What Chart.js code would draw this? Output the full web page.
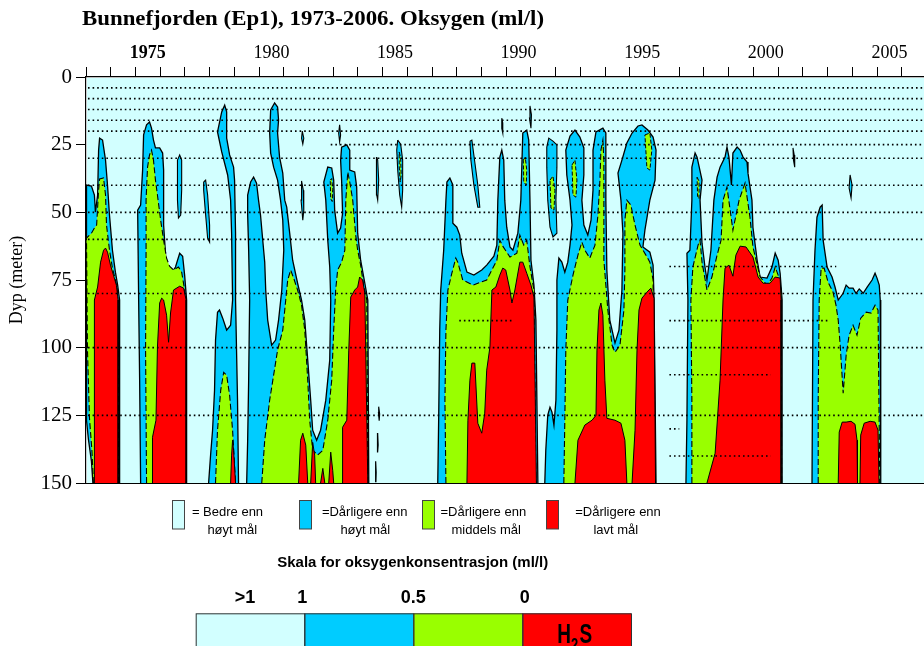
<!DOCTYPE html>
<html>
<head>
<meta charset="utf-8">
<script src="https://cdn.jsdelivr.net/npm/chart.js@4.4.1/dist/chart.umd.min.js"></script>
<style>
  html, body { margin: 0; padding: 0; background: #fff; }
  #wrap { position: relative; width: 924px; height: 646px; overflow: hidden; }
  canvas { position: absolute; left: 0; top: 0; }
</style>
</head>
<body>
<div id="wrap"><canvas id="chart" width="924" height="646"></canvas></div>
<script>
// Axis tick values
const yearTicks = [1973,1974,1975,1976,1977,1978,1979,1980,1981,1982,1983,1984,1985,1986,1987,1988,1989,1990,
                   1991,1992,1993,1994,1995,1996,1997,1998,1999,2000,2001,2002,2003,2004,2005,2006];
const yearLabels = [1975, 1980, 1985, 1990, 1995, 2000, 2005];
const depthTicks = [0, 25, 50, 75, 100, 125, 150];

// Sampling depths (m) measured over the whole period
const sampleDepths = [4, 8, 12, 16, 20, 30, 40, 50, 60, 80, 100, 125];
// Sampling depths only measured in some periods: [depth, from, to]
const sampleRowsPartial = [[25, 1982.9, 2006.9], [70, 1996.6, 2003.35], [90, 1996.6, 2003.1], [90, 1988.1, 1990.3],
                           [110, 1996.6, 2000.7], [140, 1996.6, 2000.7], [130, 1996.6, 1997.0]];

// Oxygen below 1 ml/l (outline of each stagnation period) as [year, depth]
const blueZones = [
  [[1973.28,150],[1973.22,142.0],[1973.10,134.0],[1973.02,126.8],[1973.02,39.9],[1973.22,40.3],[1973.34,43.6],[1973.38,49.9],[1973.47,43.6],[1973.51,27.0],[1973.55,22.6],[1973.67,23.3],[1973.79,30.7],[1973.87,39.9],[1973.95,51.0],[1974.07,64.0],[1974.19,72.1],[1974.28,76.9],[1974.36,82.4],[1974.36,150]],
  [[1975.21,150],[1975.17,112.0],[1975.13,82.4],[1975.09,49.2],[1975.21,47.3],[1975.29,34.4],[1975.33,21.4],[1975.45,17.7],[1975.57,16.6],[1975.65,18.9],[1975.73,23.3],[1975.81,26.2],[1975.98,26.2],[1976.10,28.1],[1976.14,34.4],[1976.14,54.7],[1976.22,65.8],[1976.30,70.6],[1976.46,72.5],[1976.62,70.2],[1976.79,65.1],[1976.91,66.2],[1976.99,73.2],[1977.07,82.4],[1977.07,150]],
  [[1977.96,150],[1978.04,139.7],[1978.12,130.5],[1978.20,115.7],[1978.24,97.2],[1978.32,86.9],[1978.40,86.1],[1978.53,89.1],[1978.69,93.5],[1978.85,91.7],[1978.93,82.4],[1978.89,57.7],[1978.85,45.5],[1978.73,36.2],[1978.49,27.7],[1978.32,20.3],[1978.49,12.9],[1978.61,10.4],[1978.69,12.9],[1978.69,22.6],[1978.81,28.8],[1978.97,33.3],[1979.01,38.1],[1979.05,57.7],[1979.05,82.4],[1979.13,119.4],[1979.17,150]],
  [[1979.50,150],[1979.54,134.2],[1979.58,112.0],[1979.62,82.4],[1979.58,64.0],[1979.54,51.0],[1979.54,43.6],[1979.66,38.8],[1979.78,37.0],[1979.90,39.2],[1979.98,45.5],[1980.06,51.0],[1980.15,60.3],[1980.23,68.4],[1980.27,78.7],[1980.35,89.8],[1980.51,99.1],[1980.67,97.2],[1980.79,89.8],[1980.92,78.7],[1981.00,64.0],[1980.96,52.9],[1980.87,45.5],[1980.75,38.1],[1980.59,33.3],[1980.47,28.1],[1980.43,20.7],[1980.47,12.2],[1980.63,9.6],[1980.75,11.1],[1980.79,15.9],[1980.75,20.7],[1980.83,29.6],[1980.96,35.5],[1981.04,45.5],[1981.12,48.1],[1981.24,57.7],[1981.36,67.7],[1981.56,76.2],[1981.72,82.4],[1981.85,89.8],[1981.97,104.6],[1982.09,119.4],[1982.17,130.5],[1982.33,134.2],[1982.49,130.5],[1982.70,119.4],[1982.86,104.6],[1982.90,82.4],[1982.86,70.2],[1982.78,60.3],[1982.70,45.5],[1982.62,38.8],[1982.78,33.3],[1982.94,33.6],[1983.02,38.1],[1983.06,49.2],[1983.18,57.7],[1983.30,55.8],[1983.38,50.3],[1983.34,38.1],[1983.30,30.7],[1983.34,25.9],[1983.55,25.1],[1983.67,27.0],[1983.67,34.4],[1983.87,35.1],[1983.95,40.7],[1983.99,57.7],[1984.11,67.7],[1984.28,76.2],[1984.40,82.4],[1984.44,150]],
  [[1987.23,150],[1987.27,124.2],[1987.31,93.5],[1987.35,78.7],[1987.47,64.0],[1987.56,45.5],[1987.60,38.8],[1987.72,37.3],[1987.84,39.9],[1987.84,54.0],[1988.00,55.5],[1988.12,58.4],[1988.20,65.1],[1988.41,72.1],[1988.69,73.2],[1989.01,71.3],[1989.21,69.5],[1989.50,66.2],[1989.62,62.1],[1989.66,45.5],[1989.74,29.6],[1989.82,27.0],[1989.90,30.7],[1989.94,45.5],[1990.02,55.5],[1990.15,62.8],[1990.27,64.0],[1990.47,57.7],[1990.59,45.5],[1990.67,20.7],[1990.83,19.6],[1990.91,23.3],[1990.96,45.5],[1991.00,67.7],[1991.12,76.9],[1991.20,89.8],[1991.24,119.4],[1991.28,150]],
  [[1991.56,150],[1991.60,137.9],[1991.68,124.9],[1991.77,122.0],[1991.85,123.8],[1991.93,128.6],[1992.01,119.4],[1992.05,93.5],[1992.05,75.0],[1992.13,66.9],[1992.25,68.4],[1992.37,72.1],[1992.49,68.4],[1992.58,62.1],[1992.66,54.7],[1992.58,45.5],[1992.45,36.2],[1992.41,27.0],[1992.58,21.8],[1992.78,19.6],[1992.98,22.2],[1993.14,26.2],[1993.14,36.2],[1993.06,45.5],[1993.14,54.7],[1993.30,58.4],[1993.43,52.9],[1993.51,41.8],[1993.51,27.0],[1993.63,20.3],[1993.91,18.9],[1994.03,20.7],[1994.03,45.5],[1994.07,71.3],[1994.19,89.8],[1994.40,98.3],[1994.56,93.5],[1994.68,78.7],[1994.72,57.7],[1994.64,45.5],[1994.52,35.5],[1994.68,30.7],[1994.88,24.4],[1995.09,20.7],[1995.33,18.1],[1995.49,17.7],[1995.73,19.6],[1995.94,22.2],[1996.06,27.0],[1996.02,38.1],[1995.81,45.5],[1995.61,56.6],[1995.53,62.8],[1995.81,64.7],[1995.94,69.5],[1995.98,82.4],[1996.06,150]],
  [[1997.27,150],[1997.31,126.8],[1997.35,82.4],[1997.31,65.1],[1997.43,64.0],[1997.51,45.5],[1997.51,33.3],[1997.64,28.1],[1997.72,29.6],[1997.92,38.1],[1997.84,45.5],[1997.92,61.4],[1998.04,70.2],[1998.12,75.0],[1998.28,64.0],[1998.40,45.5],[1998.53,37.0],[1998.65,33.3],[1998.85,29.6],[1998.93,25.9],[1999.01,29.6],[1999.11,39.9],[1999.17,28.1],[1999.34,25.9],[1999.46,27.0],[1999.58,29.6],[1999.74,31.4],[1999.78,35.5],[1999.94,45.5],[1999.98,55.5],[2000.15,67.7],[2000.27,73.9],[2000.55,74.3],[2000.75,70.2],[2000.88,65.1],[2001.00,67.7],[2001.08,72.5],[2001.16,82.4],[2001.16,150]],
  [[2002.37,150],[2002.41,82.4],[2002.49,64.0],[2002.57,51.8],[2002.70,48.1],[2002.78,47.3],[2002.82,60.3],[2002.98,70.2],[2003.18,73.9],[2003.30,77.6],[2003.43,82.4],[2003.63,79.9],[2003.75,76.9],[2003.87,78.0],[2004.03,78.0],[2004.15,79.9],[2004.28,78.3],[2004.44,79.9],[2004.60,77.6],[2004.80,75.0],[2004.92,72.5],[2005.00,74.3],[2005.09,76.9],[2005.13,82.4],[2005.15,150]]
];

// Small isolated patches below 1 ml/l (closed outlines)
const blueIslands = [
  [[1976.70,30.7],[1976.79,28.8],[1976.87,30.7],[1976.87,41.8],[1976.83,51.0],[1976.74,52.1],[1976.70,45.5],[1976.70,30.7]],
  [[1977.76,38.8],[1977.84,38.1],[1977.92,43.6],[1978.00,54.7],[1978.00,61.0],[1977.92,59.5],[1977.84,51.0],[1977.76,41.8],[1977.76,38.8]],
  [[1981.72,38.4],[1981.79,41.8],[1981.81,49.2],[1981.77,52.9],[1981.70,45.5],[1981.72,38.4]],
  [[1981.75,20.0],[1981.81,22.6],[1981.77,24.8],[1981.72,22.6],[1981.75,20.0]],
  [[1983.26,17.7],[1983.30,21.4],[1983.26,24.0],[1983.22,20.7],[1983.26,17.7]],
  [[1984.76,29.6],[1984.80,30.7],[1984.84,38.1],[1984.80,45.5],[1984.76,43.6],[1984.74,34.4],[1984.76,29.6]],
  [[1984.84,121.8],[1984.88,124.5],[1984.86,127.0],[1984.83,124.0],[1984.84,121.8]],
  [[1984.80,131.5],[1984.82,136.0],[1984.80,138.5],[1984.78,135.0],[1984.80,131.5]],
  [[1984.72,142.0],[1984.74,146.0],[1984.73,149.5],[1984.71,146.5],[1984.72,142.0]],
  [[1985.61,23.3],[1985.73,24.8],[1985.81,30.7],[1985.81,41.8],[1985.77,48.1],[1985.69,43.6],[1985.61,34.4],[1985.57,27.0],[1985.61,23.3]],
  [[1988.53,23.7],[1988.61,23.3],[1988.69,28.8],[1988.85,39.9],[1988.93,48.1],[1988.85,48.1],[1988.69,39.9],[1988.57,30.7],[1988.53,23.7]],
  [[1989.82,15.2],[1989.86,17.0],[1989.86,20.7],[1989.82,19.0],[1989.82,15.2]],
  [[1990.96,10.7],[1991.02,14.0],[1991.00,18.9],[1990.94,15.2],[1990.96,10.7]],
  [[1991.64,25.9],[1991.72,22.6],[1991.89,23.7],[1992.05,25.1],[1992.05,33.3],[1992.01,45.5],[1992.05,57.7],[1991.89,59.1],[1991.77,55.5],[1991.68,45.5],[1991.64,33.3],[1991.64,25.9]],
  [[2001.60,26.2],[2001.65,28.8],[2001.67,33.3],[2001.62,30.7],[2001.60,26.2]],
  [[2003.91,36.2],[2003.99,39.9],[2003.95,44.7],[2003.87,41.0],[2003.91,36.2]]
];

// Oxygen below 0.5 ml/l
const greenZones = [
  [[1973.30,150],[1973.24,138.0],[1973.14,126.0],[1973.06,100.9],[1973.02,59.5],[1973.22,57.7],[1973.34,55.8],[1973.43,54.7],[1973.51,41.8],[1973.55,37.7],[1973.71,37.3],[1973.79,43.6],[1973.83,54.7],[1973.95,64.0],[1974.07,70.6],[1974.19,75.0],[1974.28,79.5],[1974.32,150]],
  [[1975.45,150],[1975.41,100.9],[1975.43,64.0],[1975.43,45.5],[1975.49,33.3],[1975.57,28.8],[1975.65,27.0],[1975.73,30.7],[1975.81,38.1],[1975.89,43.6],[1976.02,52.9],[1976.14,60.3],[1976.26,66.9],[1976.38,69.9],[1976.54,71.3],[1976.74,70.2],[1976.87,72.1],[1976.99,78.7],[1977.05,150]],
  [[1978.24,150],[1978.32,130.5],[1978.45,115.7],[1978.57,109.1],[1978.69,110.2],[1978.81,117.6],[1978.93,130.5],[1979.05,150]],
  [[1980.11,150],[1980.23,134.2],[1980.43,119.4],[1980.75,100.9],[1980.96,93.5],[1981.08,82.4],[1981.16,75.0],[1981.28,71.3],[1981.40,74.3],[1981.56,78.7],[1981.72,84.3],[1981.85,93.5],[1981.97,112.0],[1982.05,126.8],[1982.17,137.9],[1982.37,139.7],[1982.58,137.9],[1982.78,126.8],[1982.94,112.0],[1983.02,93.5],[1983.10,78.7],[1983.18,71.3],[1983.34,68.4],[1983.47,64.0],[1983.51,45.5],[1983.59,35.1],[1983.67,38.8],[1983.79,45.5],[1983.91,58.4],[1983.99,64.0],[1984.11,69.5],[1984.23,76.9],[1984.36,82.4],[1984.40,150]],
  [[1987.56,150],[1987.52,119.4],[1987.56,93.5],[1987.64,78.7],[1987.80,72.5],[1987.96,66.9],[1988.04,68.4],[1988.24,75.0],[1988.65,76.9],[1989.21,75.0],[1989.62,67.7],[1989.74,60.3],[1989.86,62.5],[1990.15,66.5],[1990.43,65.1],[1990.55,58.4],[1990.71,62.1],[1990.83,60.3],[1990.96,70.2],[1991.12,78.7],[1991.20,150]],
  [[1992.33,150],[1992.37,126.8],[1992.41,100.9],[1992.49,82.4],[1992.70,73.2],[1992.90,65.8],[1993.06,61.0],[1993.18,64.0],[1993.38,66.9],[1993.59,62.1],[1993.71,51.0],[1993.79,38.1],[1993.83,27.0],[1993.91,23.3],[1993.95,30.7],[1993.95,67.7],[1994.03,76.9],[1994.11,86.1],[1994.28,99.1],[1994.40,101.7],[1994.60,99.1],[1994.76,86.1],[1994.80,71.3],[1994.80,52.9],[1994.88,45.5],[1995.04,47.3],[1995.21,54.7],[1995.41,62.1],[1995.65,65.8],[1995.81,68.4],[1995.94,75.0],[1996.02,150]],
  [[1997.51,150],[1997.51,119.4],[1997.47,82.4],[1997.55,70.2],[1997.76,62.1],[1997.84,60.3],[1997.92,68.4],[1998.12,78.7],[1998.32,73.9],[1998.53,65.8],[1998.69,60.3],[1998.77,45.5],[1998.93,40.7],[1999.17,56.6],[1999.42,45.5],[1999.66,39.2],[1999.86,51.8],[1999.98,62.8],[2000.27,73.9],[2000.55,76.9],[2000.75,74.3],[2000.88,70.2],[2001.00,73.2],[2001.12,78.7],[2001.14,150]],
  [[2002.62,150],[2002.62,119.4],[2002.66,82.4],[2002.74,70.6],[2002.86,70.6],[2003.02,75.8],[2003.22,79.5],[2003.34,84.3],[2003.43,89.8],[2003.51,99.1],[2003.63,116.8],[2003.75,102.8],[2003.87,95.4],[2004.03,91.7],[2004.19,95.4],[2004.34,89.1],[2004.56,86.9],[2004.76,87.2],[2004.92,84.3],[2005.04,86.1],[2005.11,150]]
];

const greenIslands = [
  [[1982.88,38.1],[1982.94,37.5],[1982.98,41.5],[1982.96,46.0],[1982.90,45.0],[1982.88,38.1]],
  [[1985.67,27.7],[1985.73,29.9],[1985.75,36.2],[1985.71,38.8],[1985.67,32.9],[1985.67,27.7]],
  [[1990.69,30.7],[1990.77,29.6],[1990.83,34.4],[1990.81,39.9],[1990.71,38.8],[1990.69,30.7]],
  [[1991.77,38.1],[1991.89,36.6],[1991.97,41.8],[1991.93,49.2],[1991.81,48.4],[1991.77,38.1]],
  [[1992.66,32.5],[1992.78,30.7],[1992.86,38.1],[1992.82,44.4],[1992.70,43.6],[1992.66,32.5]],
  [[1995.61,21.4],[1995.81,20.7],[1995.89,27.0],[1995.81,34.4],[1995.69,33.6],[1995.61,21.4]],
  [[1997.72,37.0],[1997.80,38.5],[1997.80,45.0],[1997.74,44.0],[1997.72,37.0]]
];

// Hydrogen sulphide (H2S)
const redZones = [
  [[1973.34,150],[1973.34,82.4],[1973.47,77.6],[1973.59,68.4],[1973.71,64.0],[1973.79,63.2],[1973.87,64.7],[1973.99,69.5],[1974.11,73.2],[1974.23,76.9],[1974.30,82.4],[1974.30,150]],
  [[1975.67,150],[1975.69,133.1],[1975.83,126.8],[1975.89,99.8],[1975.98,83.5],[1976.06,81.7],[1976.14,82.4],[1976.26,88.0],[1976.34,98.0],[1976.42,87.2],[1976.54,78.7],[1976.79,77.3],[1976.95,78.0],[1977.05,82.4],[1977.05,150]],
  [[1978.85,150],[1978.89,139.7],[1978.93,134.2],[1978.97,137.9],[1979.05,150]],
  [[1981.60,150],[1981.68,134.2],[1981.77,131.6],[1981.89,136.0],[1981.97,150]],
  [[1982.09,150],[1982.17,135.0],[1982.25,139.7],[1982.29,150]],
  [[1982.49,150],[1982.58,144.6],[1982.66,150]],
  [[1982.82,150],[1982.90,138.6],[1982.98,145.3],[1983.02,150]],
  [[1983.36,150],[1983.38,129.4],[1983.55,126.8],[1983.63,100.9],[1983.71,81.3],[1983.87,78.7],[1983.99,77.6],[1984.07,73.9],[1984.19,75.0],[1984.28,79.9],[1984.40,150]],
  [[1988.41,150],[1988.45,126.8],[1988.53,112.0],[1988.61,105.7],[1988.73,105.7],[1988.85,127.9],[1989.01,131.6],[1989.13,124.2],[1989.21,108.3],[1989.34,99.8],[1989.42,78.7],[1989.58,77.6],[1989.74,73.2],[1989.86,70.6],[1989.98,71.3],[1990.15,78.7],[1990.23,83.5],[1990.35,78.7],[1990.55,68.4],[1990.67,68.4],[1990.83,72.5],[1991.00,76.9],[1991.12,81.3],[1991.22,150]],
  [[1992.78,150],[1992.90,134.2],[1993.18,128.6],[1993.47,126.8],[1993.63,125.0],[1993.67,100.9],[1993.75,86.1],[1993.83,83.5],[1993.91,88.0],[1993.99,112.0],[1994.07,126.1],[1994.40,126.8],[1994.64,127.9],[1994.80,134.2],[1994.88,150]],
  [[1995.09,150],[1995.21,130.5],[1995.29,100.9],[1995.37,86.1],[1995.49,81.7],[1995.69,79.5],[1995.85,78.0],[1995.98,81.7],[1996.04,150]],
  [[1998.12,150],[1998.45,139.0],[1998.65,112.0],[1998.77,82.4],[1998.85,70.6],[1999.01,69.5],[1999.17,73.6],[1999.29,65.8],[1999.46,62.5],[1999.70,62.8],[1999.98,66.5],[2000.19,73.9],[2000.39,76.2],[2000.67,76.2],[2000.88,73.9],[2001.08,74.3],[2001.12,82.4],[2001.12,150]],
  [[2003.43,150],[2003.47,131.2],[2003.59,127.5],[2003.75,127.5],[2003.95,127.2],[2004.11,128.3],[2004.19,134.2],[2004.21,150]],
  [[2004.31,150],[2004.34,132.3],[2004.48,127.9],[2004.72,127.2],[2004.92,127.5],[2005.04,130.5],[2005.08,150]]
];

// Colour classes
const COL_GOOD = '#d2ffff';   // > 1 ml/l
const COL_LOW  = '#00ccff';   // 0.5 - 1 ml/l
const COL_VLOW = '#99ff00';   // 0 - 0.5 ml/l
const COL_H2S  = '#ff0000';   // H2S

const X_MIN = 1973, X_MAX = 2006.9;

function zone(points, color, dash, width, order) {
  return {
    data: points.map(([x, y]) => ({x, y})),
    backgroundColor: color,
    borderColor: '#000',
    borderWidth: width,
    borderDash: dash,
    fill: 'shape',
    pointRadius: 0,
    pointHoverRadius: 0,
    tension: 0,
    order
  };
}

function sampleRow(depth, from, to) {
  return {
    data: [{x: from, y: depth}, {x: to, y: depth}],
    borderColor: '#000',
    borderWidth: 1.6,
    borderDash: [1.6, 3],
    fill: false,
    pointRadius: 0,
    pointHoverRadius: 0,
    order: 1
  };
}

const datasets = [];
blueZones.forEach(p => datasets.push(zone(p, COL_LOW, [], 1.3, 50)));
blueIslands.forEach(p => datasets.push(zone(p, COL_LOW, [], 1.1, 45)));
greenZones.forEach(p => datasets.push(zone(p, COL_VLOW, [6, 3], 1.1, 40)));
greenIslands.forEach(p => datasets.push(zone(p, COL_VLOW, [4, 2], 1, 35)));
redZones.forEach(p => datasets.push(zone(p, COL_H2S, [], 1, 30)));
sampleDepths.forEach(d => datasets.push(sampleRow(d, 1973.08, X_MAX)));
sampleRowsPartial.forEach(([d, a, b]) => datasets.push(sampleRow(d, a, b)));

// Plot background, frame, title, legend and colour scale
const decorations = {
  id: 'decorations',
  beforeDraw(chart) {
    const {ctx, chartArea: a} = chart;
    ctx.save();
    ctx.fillStyle = COL_GOOD;
    ctx.fillRect(a.left + 1, a.top + 1, a.right - a.left, a.bottom - a.top - 1);
    ctx.restore();
  },
  afterDraw(chart) {
    const {ctx, chartArea: a} = chart;
    ctx.save();
    // bottom frame line
    ctx.strokeStyle = '#000';
    ctx.lineWidth = 1.2;
    ctx.beginPath();
    ctx.moveTo(a.left, a.bottom + 0.5);
    ctx.lineTo(a.right, a.bottom + 0.5);
    ctx.stroke();

    // title
    const title = 'Bunnefjorden (Ep1), 1973-2006. Oksygen (ml/l)';
    ctx.fillStyle = '#000';
    ctx.font = 'bold 20px "Liberation Serif"';
    ctx.textAlign = 'left';
    ctx.textBaseline = 'alphabetic';
    const w = ctx.measureText(title).width;
    ctx.save();
    ctx.translate(82, 24.5);
    ctx.scale(462 / w, 1);
    ctx.fillText(title, 0, 0);
    ctx.restore();

    // legend
    const items = [
      {x: 172, color: COL_GOOD, l1: '= Bedre enn', c1: 227.5, l2: 'høyt mål', c2: 232.3},
      {x: 299, color: COL_LOW,  l1: '=Dårligere enn', c1: 364.7, l2: 'høyt mål', c2: 365.3},
      {x: 422, color: COL_VLOW, l1: '=Dårligere enn', c1: 483.3, l2: 'middels mål', c2: 486.2},
      {x: 546, color: COL_H2S,  l1: '=Dårligere enn', c1: 618.0, l2: 'lavt mål', c2: 615.8}
    ];
    ctx.font = '13px "Liberation Sans"';
    ctx.textAlign = 'center';
    items.forEach(it => {
      ctx.fillStyle = it.color;
      ctx.fillRect(it.x, 500, 12.5, 29);
      ctx.strokeStyle = '#444';
      ctx.lineWidth = 1;
      ctx.strokeRect(it.x + 0.5, 500.5, 12, 28.5);
      ctx.fillStyle = '#000';
      ctx.fillText(it.l1, it.c1, 516);
      ctx.fillText(it.l2, it.c2, 533.5);
    });

    // colour scale
    ctx.font = 'bold 15px "Liberation Sans"';
    ctx.fillText('Skala for oksygenkonsentrasjon (ml/l)', 412.7, 567);
    ctx.font = 'bold 18px "Liberation Sans"';
    [['>1', 245], ['1', 302.3], ['0.5', 413.3], ['0', 524.7]].forEach(([t, x]) => ctx.fillText(t, x, 602.7));
    const edges = [195.7, 304.3, 413.3, 522.3, 631];
    const cols = [COL_GOOD, COL_LOW, COL_VLOW, COL_H2S];
    cols.forEach((c, i) => {
      ctx.fillStyle = c;
      ctx.fillRect(edges[i], 613.3, edges[i + 1] - edges[i], 40);
    });
    ctx.strokeStyle = '#333';
    ctx.lineWidth = 1;
    for (let i = 0; i < 4; i++) {
      ctx.strokeRect(edges[i] + 0.5, 613.8, edges[i + 1] - edges[i], 40);
    }
    // H2S label
    ctx.fillStyle = '#000';
    ctx.textAlign = 'left';
    ctx.save();
    ctx.translate(0, 643.3);
    ctx.scale(1, 1.45);
    ctx.font = 'bold 19px "Liberation Sans"';
    ctx.fillText('H', 557.3, 0);
    ctx.font = 'bold 13px "Liberation Sans"';
    ctx.fillText('2', 571, 5);
    ctx.font = 'bold 19px "Liberation Sans"';
    ctx.fillText('S', 579.5, 0);
    ctx.restore();
    ctx.restore();
  }
};

new Chart(document.getElementById('chart'), {
  type: 'line',
  data: { datasets },
  options: {
    responsive: false,
    animation: false,
    events: [],
    devicePixelRatio: 1,
    layout: { padding: { left: 0, right: 0, top: 0, bottom: 163 } },
    plugins: { legend: { display: false }, tooltip: { enabled: false }, title: { display: false } },
    scales: {
      x: {
        type: 'linear',
        position: 'top',
        min: X_MIN,
        max: X_MAX,
        z: 1,
        afterBuildTicks: s => { s.ticks = yearTicks.map(v => ({value: v})); },
        afterFit: s => { s.height = 77; },
        ticks: {
          autoSkip: false,
          maxRotation: 0,
          padding: 3,
          labelOffset: 12.35,
          color: '#000',
          font: c => ({family: 'Liberation Serif', size: 18,
                       weight: (c.tick && c.tick.value === 1975) ? 'bold' : 'normal'}),
          callback: v => yearLabels.includes(v) ? String(v) : ''
        },
        grid: { drawOnChartArea: false, drawTicks: true, tickLength: 10, color: '#000', lineWidth: 1 },
        border: { display: true, color: '#000', width: 1.2 }
      },
      y: {
        type: 'linear',
        reverse: true,
        min: 0,
        max: 150,
        z: 1,
        afterBuildTicks: s => { s.ticks = depthTicks.map(v => ({value: v})); },
        afterFit: s => { s.width = 86; },
        ticks: { color: '#000', padding: 4, font: {family: 'Liberation Serif', size: 21} },
        grid: { drawOnChartArea: false, drawTicks: true, tickLength: 10, color: '#000', lineWidth: 1 },
        border: { display: true, color: '#000', width: 1.2 },
        title: { display: true, text: 'Dyp (meter)', color: '#000',
                 font: {family: 'Liberation Serif', size: 18}, padding: {top: 6, bottom: 0} }
      }
    }
  },
  plugins: [decorations]
});
</script>
</body>
</html>
